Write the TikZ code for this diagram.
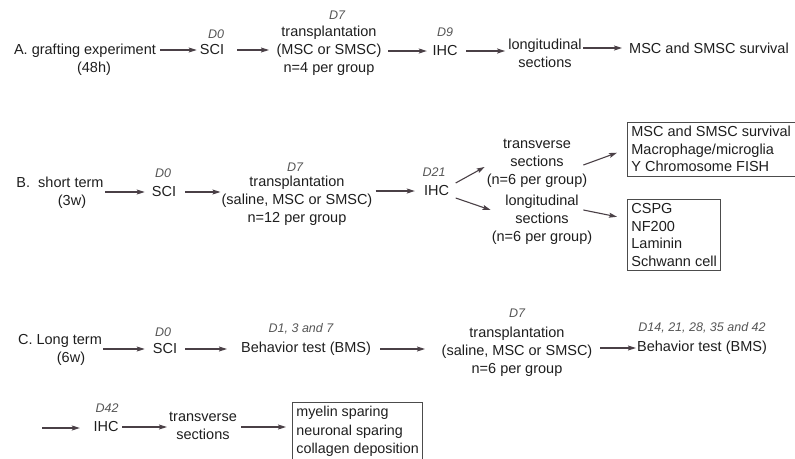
\documentclass[tikz,border=0pt]{standalone}
\usepackage{fontspec}
\setmainfont{Liberation Sans}
\usetikzlibrary{arrows.meta}
\definecolor{arrcol}{HTML}{4A4046}
\definecolor{lblcol}{HTML}{555555}
\definecolor{txtcol}{HTML}{1E1E1E}
\begin{document}
\begin{tikzpicture}[x=1pt,y=-1pt,
  txt/.style={font=\fontsize{14.5}{18}\selectfont, inner sep=1pt, align=center, text=txtcol},
  day/.style={font=\fontsize{12.5}{15}\selectfont\itshape, inner sep=0pt, text=lblcol},
  res/.style={draw=black!70, line width=0.8pt, font=\fontsize{14.5}{17.5}\selectfont, align=left, text=txtcol, inner xsep=4pt, inner ysep=4pt},
  arr/.style={draw=arrcol, line width=1.1pt, -{Stealth[length=8pt,width=5pt,inset=1.5pt]}},
]
\useasboundingbox (0,0) rectangle (795,458);

% ---------- Row A ----------
\node[txt] (a1) at (85,60) {A. grafting experiment\\\hspace*{18pt}(48h)};
\node[txt] (sciA) at (212,50) {SCI};
\node[day] (d0A) at (216,34) {D0};
\node[txt] (trA) at (329,51) {transplantation\\(MSC or SMSC)\\n=4 per group};
\node[day] (d7A) at (337,15) {D7};
\node[txt] (ihcA) at (445,51) {IHC};
\node[day] (d9A) at (445,32) {D9};
\node[txt] (lonA) at (545,53) {longitudinal\\sections};
\node[txt] (survA) at (709,48) {MSC and SMSC survival};

\draw[arr, shorten <=3pt, shorten >=2pt] (a1.east |- sciA) -- (sciA.west);
\draw[arr, shorten <=12pt, shorten >=6.5pt] (sciA.east) -- (sciA.east -| trA.west);
\draw[arr, shorten <=5.5pt, shorten >=4.5pt] (trA.east |- ihcA) -- (ihcA.west);
\draw[arr, shorten <=7.5pt, shorten >=2pt] (ihcA.east) -- (ihcA.east -| lonA.west);
\draw[arr, shorten <=0.5pt, shorten >=6pt] (lonA.east |- survA) -- (survA.west);

% ---------- Row B ----------
\node[txt] (b1) at (60,193) {B.\ \ short term\\\hspace*{24pt}(3w)};
\node[txt] (sciB) at (164,192) {SCI};
\node[day] (d0B) at (163,173) {D0};
\node[txt] (trB) at (297,201) {transplantation\\(saline, MSC or SMSC)\\n=12 per group};
\node[day] (d7B) at (295,167) {D7};
\node[txt] (ihcB) at (436.5,191) {IHC};
\node[day] (d21B) at (434,172) {D21};
\node[txt] (trvB) at (537,163) {transverse\\sections\\(n=6 per group)};
\node[txt] (lonB) at (542,220) {longitudinal\\sections\\(n=6 per group)};
\node[res, anchor=north west] (box1) at (627,122) {MSC and SMSC survival\\Macrophage/microglia\\Y Chromosome FISH};
\node[res, anchor=north west] (box2) at (627,199) {CSPG\\NF200\\Laminin\\Schwann cell};

\draw[arr, shorten <=0.5pt, shorten >=6pt] (b1.east |- sciB) -- (sciB.west);
\draw[arr, shorten <=8pt, shorten >=0pt] (sciB.east) -- (sciB.east -| trB.west);
\draw[arr, shorten <=2pt, shorten >=8pt] (trB.east |- ihcB) -- (ihcB.west);
\draw[arr] ([shift={(5.5,-8)}]ihcB.east) -- ([shift={(-1,4)}]trvB.west);
\draw[arr] ([shift={(5.5,7)}]ihcB.east) -- ([shift={(0,-10)}]lonB.west);
\draw[arr] ([shift={(-5,2)}]trvB.east) -- ([shift={(-10,3.5)}]box1.west);
\draw[arr] ([shift={(-10,-10)}]lonB.east) -- ([shift={(-10,-18)}]box2.west);

% ---------- Row C ----------
\node[txt] (c1) at (60,349.5) {C. Long term\\\hspace*{22pt}(6w)};
\node[txt] (sciC) at (165,349) {SCI};
\node[day] (d0C) at (163,332) {D0};
\node[txt] (bhv1) at (306,349) {Behavior test (BMS)};
\node[day] (d1C) at (301,329) {D1, 3 and 7};
\node[txt] (trC) at (517,352) {transplantation\\(saline, MSC or SMSC)\\n=6 per group};
\node[day] (d7C) at (517,313) {D7};
\node[txt] (bhv2) at (702,348) {Behavior test (BMS)};
\node[day] (d14C) at (702,328) {D14, 21, 28, 35 and 42};

\coordinate (cstart) at (42,428);
\node[txt] (ihcC) at (106,427) {IHC};
\node[day] (d42C) at (107,408) {D42};
\node[txt] (trvC) at (203,425.5) {transverse\\sections};
\node[res, anchor=north west, font=\fontsize{14.3}{18.5}\selectfont] (box3) at (292,402) {myelin sparing\\neuronal sparing\\collagen deposition};

\draw[arr, shorten <=0pt, shorten >=7pt] (c1.east |- sciC) -- (sciC.west);
\draw[arr, shorten <=7pt, shorten >=13pt] (sciC.east) -- (bhv1.west);
\draw[arr, shorten <=8pt, shorten >=15.5pt] (bhv1.east) -- (bhv1.east -| trC.west);
\draw[arr, shorten <=6.5pt, shorten >=0pt] (trC.east |- bhv2) -- (bhv2.west);
\draw[arr, shorten >=12.5pt] (cstart) -- (cstart -| ihcC.west);
\draw[arr, shorten <=2.5pt, shorten >=1pt] (ihcC.east) -- (ihcC.east -| trvC.west);
\draw[arr, shorten <=3pt, shorten >=6pt] (trvC.east |- ihcC) -- (ihcC -| box3.west);
\end{tikzpicture}
\end{document}
